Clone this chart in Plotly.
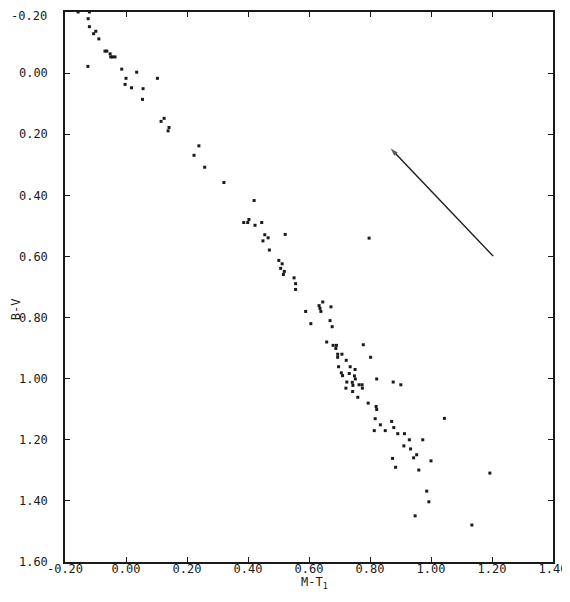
import plotly.graph_objects as go

# M-T1 colour (x) and B-V colour (y) for each star
mt1 = [-0.157, -0.120, -0.124, -0.120, -0.106, -0.099, -0.089, -0.069, -0.063, -0.052,
       -0.050, -0.044, -0.036, -0.125, -0.014, 0.035, 0.000, -0.003, 0.018, 0.056,
       0.054, 0.103, 0.125, 0.115, 0.141, 0.138, 0.239, 0.223, 0.258, 0.321,
       0.420, 0.386, 0.399, 0.403, 0.423, 0.445, 0.455, 0.522, 0.466, 0.449,
       0.470, 0.501, 0.512, 0.507, 0.519, 0.516, 0.551, 0.556, 0.556, 0.797,
       0.645, 0.633, 0.636, 0.672, 0.589, 0.639, 0.669, 0.606, 0.676, 0.658,
       0.679, 0.690, 0.688, 0.778, 0.694, 0.708, 0.694, 0.802, 0.722, 0.697,
       0.735, 0.751, 0.706, 0.710, 0.732, 0.749, 0.752, 0.822, 0.724, 0.742,
       0.744, 0.764, 0.774, 0.876, 0.901, 0.721, 0.775, 0.743, 0.760, 0.794,
       0.820, 0.822, 0.817, 1.044, 0.871, 0.834, 0.878, 0.814, 0.850, 0.891,
       0.913, 0.929, 0.973, 0.911, 0.933, 0.953, 0.943, 1.000, 0.874, 0.884,
       0.960, 1.193, 0.986, 0.993, 0.948, 1.134]
bv = [-0.200, -0.200, -0.178, -0.152, -0.129, -0.137, -0.112, -0.072, -0.072, -0.063,
      -0.053, -0.053, -0.053, -0.022, -0.013, -0.003, 0.017, 0.037, 0.048, 0.051,
      0.086, 0.017, 0.148, 0.158, 0.178, 0.189, 0.238, 0.269, 0.308, 0.358,
      0.417, 0.489, 0.489, 0.479, 0.498, 0.489, 0.529, 0.528, 0.539, 0.549,
      0.579, 0.613, 0.624, 0.639, 0.649, 0.659, 0.670, 0.689, 0.708, 0.540,
      0.749, 0.761, 0.770, 0.765, 0.780, 0.780, 0.810, 0.820, 0.830, 0.880,
      0.891, 0.891, 0.901, 0.889, 0.920, 0.920, 0.930, 0.930, 0.940, 0.961,
      0.961, 0.970, 0.981, 0.990, 0.983, 0.991, 1.001, 1.001, 1.011, 1.012,
      1.022, 1.020, 1.020, 1.011, 1.020, 1.031, 1.031, 1.042, 1.061, 1.080,
      1.091, 1.101, 1.131, 1.130, 1.140, 1.151, 1.160, 1.170, 1.170, 1.180,
      1.180, 1.200, 1.200, 1.220, 1.230, 1.249, 1.259, 1.269, 1.261, 1.290,
      1.299, 1.309, 1.368, 1.403, 1.449, 1.479]

# reddening vector: tail then head
arrow_x = [1.204, 0.868]
arrow_y = [0.599, 0.247]

x_ticks = [-0.2, 0.0, 0.2, 0.4, 0.6, 0.8, 1.0, 1.2, 1.4]
x_ticklabels = ["-0.20", "0.00", "0.20", "0.40", "0.60", "0.80", "1.00", "1.20", "1.40"]
y_ticks = [-0.2, 0.0, 0.2, 0.4, 0.6, 0.8, 1.0, 1.2, 1.4, 1.6]
y_ticklabels = ["-0.20", "0.00", "0.20", "0.40", "0.60", "0.80", "1.00", "1.20", "1.40", "1.60"]

FONT = "DejaVu Sans Mono"
INK = "#1a1a1a"

fig = go.Figure()
fig.add_trace(go.Scatter(
    x=mt1, y=bv, mode="markers",
    marker=dict(symbol="square", size=3, color=INK, line=dict(width=0)),
    showlegend=False, cliponaxis=False, hoverinfo="skip",
))
fig.add_trace(go.Scatter(
    x=arrow_x, y=arrow_y, mode="lines+markers",
    line=dict(color=INK, width=1.4),
    marker=dict(symbol=["circle", "arrow"], size=[0, 8], color=INK,
                angleref="previous", line=dict(width=0)),
    showlegend=False, hoverinfo="skip",
))

axis_common = dict(
    showgrid=False, zeroline=False, automargin=False,
    showline=True, linecolor=INK, linewidth=1.5, mirror="ticks",
    ticks="inside", ticklen=5, tickwidth=1.2, tickcolor=INK,
    tickfont=dict(family=FONT, size=12, color=INK),
    ticklabeloverflow="allow",
)

fig.update_xaxes(range=[-0.2, 1.4], tickvals=x_ticks, ticktext=x_ticklabels,
                 ticklabelstandoff=-5, **axis_common)
# the top y label sits at the very edge of the page; draw it just below the frame
fig.update_yaxes(range=[1.6, -0.2], tickvals=y_ticks[1:], ticktext=y_ticklabels[1:],
                 ticklabelstandoff=13, **axis_common)
fig.add_annotation(
    text=y_ticklabels[0], xref="paper", yref="y", x=0, y=y_ticks[0],
    xanchor="right", yanchor="middle", xshift=-16, yshift=-4, showarrow=False,
    font=dict(family=FONT, size=12, color=INK),
)

fig.add_annotation(
    text="M-T<sub>1</sub>", xref="paper", yref="paper", x=0.512, y=-0.038,
    xanchor="center", yanchor="middle", showarrow=False,
    font=dict(family=FONT, size=12, color=INK),
)
fig.add_annotation(
    text="B-V", xref="paper", yref="paper", x=-0.100, y=0.46,
    xanchor="center", yanchor="middle", showarrow=False, textangle=-90,
    font=dict(family=FONT, size=12, color=INK),
)

fig.update_layout(
    width=562, height=586,
    margin=dict(l=57, r=17, t=4, b=32),
    paper_bgcolor="white", plot_bgcolor="white",
)

fig.write_html("out.html")
